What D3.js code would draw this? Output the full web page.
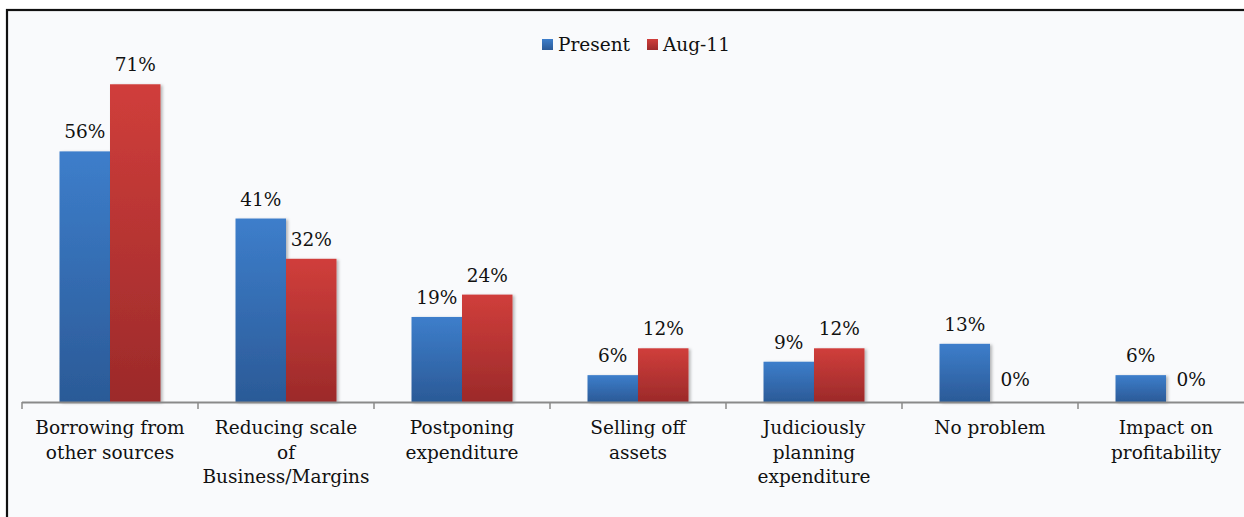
<!DOCTYPE html>
<html>
<head>
<meta charset="utf-8">
<script src="https://cdn.jsdelivr.net/npm/d3@7"></script>
<style>
  html, body { margin: 0; padding: 0; background: #ffffff; }
  svg { display: block; }
  text { font-family: "DejaVu Serif", Georgia, serif; fill: #111; }
</style>
</head>
<body>
<svg id="chart" width="1244" height="517"></svg>
<script>
// Categories (line breaks mark where each label wraps)
const categories = [
  "Borrowing from\nother sources",
  "Reducing scale\nof\nBusiness/Margins",
  "Postponing\nexpenditure",
  "Selling off\nassets",
  "Judiciously\nplanning\nexpenditure",
  "No problem",
  "Impact on\nprofitability"
];
const seriesNames = ["Present", "Aug-11"];
const presentValues = [56, 41, 19, 6, 9, 13, 6];
const aug11Values = [71, 32, 24, 12, 12, 0, 0];

const seriesValues = [presentValues, aug11Values];
const colors = {
  "Present": { top: "#3d7ecb", bottom: "#2b5a97", key: "#3a73bb" },
  "Aug-11": { top: "#d03e3b", bottom: "#9c2a2a", key: "#c13634" }
};

const svg = d3.select("#chart");
const W = 1244, H = 517;

// frame
svg.append("rect").attr("x", 0).attr("y", 0).attr("width", W).attr("height", H).attr("fill", "#ffffff");
svg.append("rect").attr("x", 7).attr("y", 10).attr("width", W).attr("height", H)
  .attr("fill", "#f9fafc").attr("stroke", "#111").attr("stroke-width", 2.2);

const defs = svg.append("defs");
seriesNames.forEach((s, i) => {
  const g = defs.append("linearGradient").attr("id", "grad" + i)
    .attr("x1", 0).attr("y1", 0).attr("x2", 0).attr("y2", 1);
  g.append("stop").attr("offset", "0%").attr("stop-color", colors[s].top);
  g.append("stop").attr("offset", "100%").attr("stop-color", colors[s].bottom);
});
const shadow = defs.append("filter").attr("id", "shadow")
  .attr("x", "-20%").attr("y", "-20%").attr("width", "140%").attr("height", "140%");
shadow.append("feDropShadow").attr("dx", 2).attr("dy", 1).attr("stdDeviation", 1.6)
  .attr("flood-color", "#000").attr("flood-opacity", 0.28);

const baseY = 402;
const left = 22, step = 176;

const x0 = d3.scaleBand().domain(categories).range([left, left + step * categories.length])
  .paddingInner(0).paddingOuter(0);
const x1 = d3.scaleBand().domain(seriesNames).range([0, x0.bandwidth()])
  .paddingInner(0).paddingOuter(0.743);
const y = d3.scaleLinear().domain([0, 80]).range([baseY, 44]);

// bars
const groups = svg.append("g").selectAll("g").data(categories).join("g")
  .attr("transform", d => `translate(${x0(d)},0)`);

groups.selectAll("rect")
  .data((d, ci) => seriesNames.map((s, si) => ({ s, si, v: seriesValues[si][ci] })))
  .join("rect")
  .filter(d => d.v > 0)
  .attr("x", d => x1(d.s))
  .attr("y", d => y(d.v))
  .attr("width", x1.bandwidth())
  .attr("height", d => baseY - y(d.v))
  .attr("fill", d => `url(#grad${d.si})`)
  .attr("filter", "url(#shadow)");

// value labels
groups.selectAll("text.val")
  .data((d, ci) => seriesNames.map((s, si) => ({ s, si, v: seriesValues[si][ci] })))
  .join("text")
  .attr("class", "val")
  .attr("x", d => x1(d.s) + x1.bandwidth() / 2)
  .attr("y", d => y(d.v) - (d.v === 0 ? 16 : 13))
  .attr("text-anchor", "middle")
  .attr("font-size", 18.5)
  .text(d => d.v + "%");

// axis
const axis = d3.axisBottom(x0).tickSize(0).tickFormat("");
const axG = svg.append("g").attr("transform", `translate(0,${baseY})`).call(axis);
axG.select(".domain").remove();
axG.append("line").attr("x1", left).attr("x2", W).attr("y1", 0.5).attr("y2", 0.5)
  .attr("stroke", "#8a8a8a").attr("stroke-width", 2);
axG.selectAll("line.tk")
  .data(d3.range(categories.length + 1))
  .join("line").attr("class", "tk")
  .attr("x1", i => left + i * step).attr("x2", i => left + i * step)
  .attr("y1", 0).attr("y2", 7)
  .attr("stroke", "#8a8a8a").attr("stroke-width", 1.5);

// category labels
axG.selectAll(".tick").each(function (d) {
  const t = d3.select(this).append("text")
    .attr("text-anchor", "middle")
    .attr("font-size", 18.5)
    .attr("fill", "#111");
  d.split("\n").forEach((line, i) => {
    t.append("tspan").attr("x", 0).attr("y", 32 + i * 24.5).text(line);
  });
});

// legend
const legend = svg.append("g").attr("transform", "translate(542,0)");
const legendX = [0, 105];
seriesNames.forEach((s, i) => {
  const lg = legend.append("g").attr("transform", `translate(${legendX[i]},0)`);
  lg.append("rect").attr("x", 0).attr("y", 39).attr("width", 11).attr("height", 11)
    .attr("fill", `url(#grad${i})`);
  lg.append("text").attr("x", 16).attr("y", 51).attr("font-size", 18.5).text(s);
});
</script>
</body>
</html>
